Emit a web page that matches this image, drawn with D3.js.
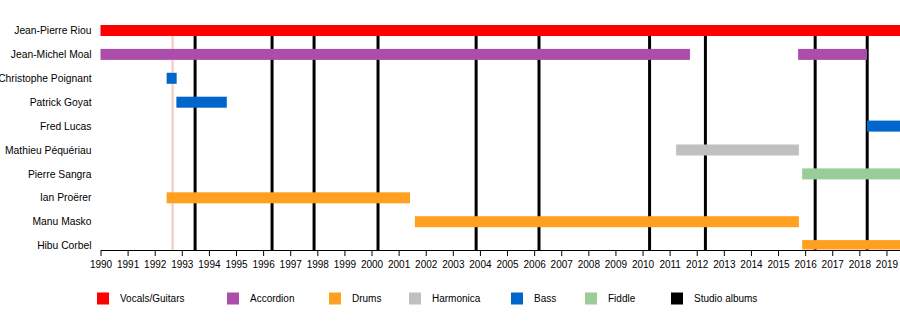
<!DOCTYPE html>
<html>
<head>
<meta charset="utf-8">
<script src="https://cdn.jsdelivr.net/npm/d3@7"></script>
<style>
  html, body { margin: 0; padding: 0; background: #fff; }
  svg { display: block; font-family: "Liberation Sans", Arial, sans-serif; }
</style>
</head>
<body>
<svg id="chart" width="900" height="325"></svg>
<script>
// Band members, top to bottom
const members = [
  "Jean-Pierre Riou", "Jean-Michel Moal", "Christophe Poignant", "Patrick Goyat",
  "Fred Lucas", "Mathieu Péquériau", "Pierre Sangra", "Ian Proërer",
  "Manu Masko", "Hibu Corbel"
];

// Roles and their colours
const roles = ["Vocals/Guitars", "Accordion", "Drums", "Harmonica", "Bass", "Fiddle", "Studio albums"];
const roleColors = ["#ff0000", "#ab4eab", "#ffa020", "#c0c0c0", "#0066cc", "#99cc99", "#000000"];

// Membership periods (decimal years): member, role, start, end
const periodMember = [
  "Jean-Pierre Riou", "Jean-Michel Moal", "Jean-Michel Moal", "Christophe Poignant",
  "Patrick Goyat", "Fred Lucas", "Mathieu Péquériau", "Pierre Sangra",
  "Ian Proërer", "Manu Masko", "Hibu Corbel"
];
const periodRole = [
  "Vocals/Guitars", "Accordion", "Accordion", "Bass",
  "Bass", "Bass", "Harmonica", "Fiddle",
  "Drums", "Drums", "Drums"
];
const periodStart = [1990, 1990, 2015.74, 1992.44, 1992.8, 2018.28, 2011.24, 2015.89, 1992.44, 2001.6, 2015.89];
const periodEnd = [2019.5, 2011.75, 2018.28, 1992.81, 1994.66, 2019.5, 2015.77, 2019.5, 2001.42, 2015.77, 2019.5];

// Studio album releases (decimal years)
const albums = [1993.49, 1996.33, 1997.88, 2000.24, 2003.86, 2006.18, 2010.26, 2012.32, 2016.37, 2018.29];
// Live release marker
const liveRelease = [1992.66];

// Axis years
const yearTicks = d3.range(1990, 2020);

const svg = d3.select("#chart");

const x = d3.scaleLinear().domain([1990, 2019.5]).range([100.5, 900]);
const y = d3.scaleBand().domain(members).range([18.55, 257.55]).padding(0);
const color = d3.scaleOrdinal().domain(roles).range(roleColors);
const barH = 11;
const axisY = 250;
const lineTop = y(members[0]) + y.bandwidth() / 2 + barH / 2;

// Keep bars above the time axis
svg.append("defs").append("clipPath").attr("id", "plotClip")
  .append("rect").attr("x", 0).attr("y", 0).attr("width", 900).attr("height", axisY - 0.5);

// Live release line
svg.append("g").selectAll("line").data(liveRelease).join("line")
  .attr("x1", d => x(d)).attr("x2", d => x(d))
  .attr("y1", lineTop).attr("y2", axisY)
  .attr("stroke", "#f8cfc8").attr("stroke-width", 2.5);

// Studio album lines
svg.append("g").selectAll("line").data(albums).join("line")
  .attr("x1", d => x(d)).attr("x2", d => x(d))
  .attr("y1", lineTop).attr("y2", axisY)
  .attr("stroke", "#000").attr("stroke-width", 3);

// Membership bars
const periods = periodMember.map((m, i) => ({
  member: m, role: periodRole[i], start: periodStart[i], end: periodEnd[i]
}));
svg.append("g").attr("clip-path", "url(#plotClip)")
  .selectAll("rect").data(periods).join("rect")
  .attr("x", d => x(d.start))
  .attr("width", d => x(d.end) - x(d.start))
  .attr("y", d => y(d.member) + y.bandwidth() / 2 - barH / 2)
  .attr("height", barH)
  .attr("fill", d => color(d.role));

// Member names
svg.append("g").selectAll("text").data(members).join("text")
  .attr("x", 91.5)
  .attr("y", d => y(d) + y.bandwidth() / 2)
  .attr("dy", "0.35em")
  .attr("text-anchor", "end")
  .attr("font-size", 10.3)
  .attr("fill", "#000")
  .text(d => d);

// Year axis
const axis = svg.append("g")
  .attr("transform", `translate(0,${axisY})`)
  .call(d3.axisBottom(x).tickValues(yearTicks).tickFormat(d3.format("d")).tickSize(6).tickSizeOuter(0));
axis.select(".domain").attr("stroke", "#000");
axis.selectAll(".tick line").attr("stroke", "#000");
axis.selectAll(".tick text")
  .attr("font-family", "\"Liberation Sans\", Arial, sans-serif")
  .attr("font-size", 10)
  .attr("fill", "#000")
  .attr("y", 11);

// Legend
const legendX = [97, 227, 329, 409, 511, 585, 671];
const legend = svg.append("g").selectAll("g").data(roles).join("g")
  .attr("transform", (d, i) => `translate(${legendX[i]},292.5)`);
legend.append("rect")
  .attr("width", 12).attr("height", 12)
  .attr("fill", d => color(d));
legend.append("text")
  .attr("x", 23).attr("y", 6)
  .attr("dy", "0.35em")
  .attr("font-size", 10)
  .attr("fill", "#000")
  .text(d => d);
</script>
</body>
</html>
